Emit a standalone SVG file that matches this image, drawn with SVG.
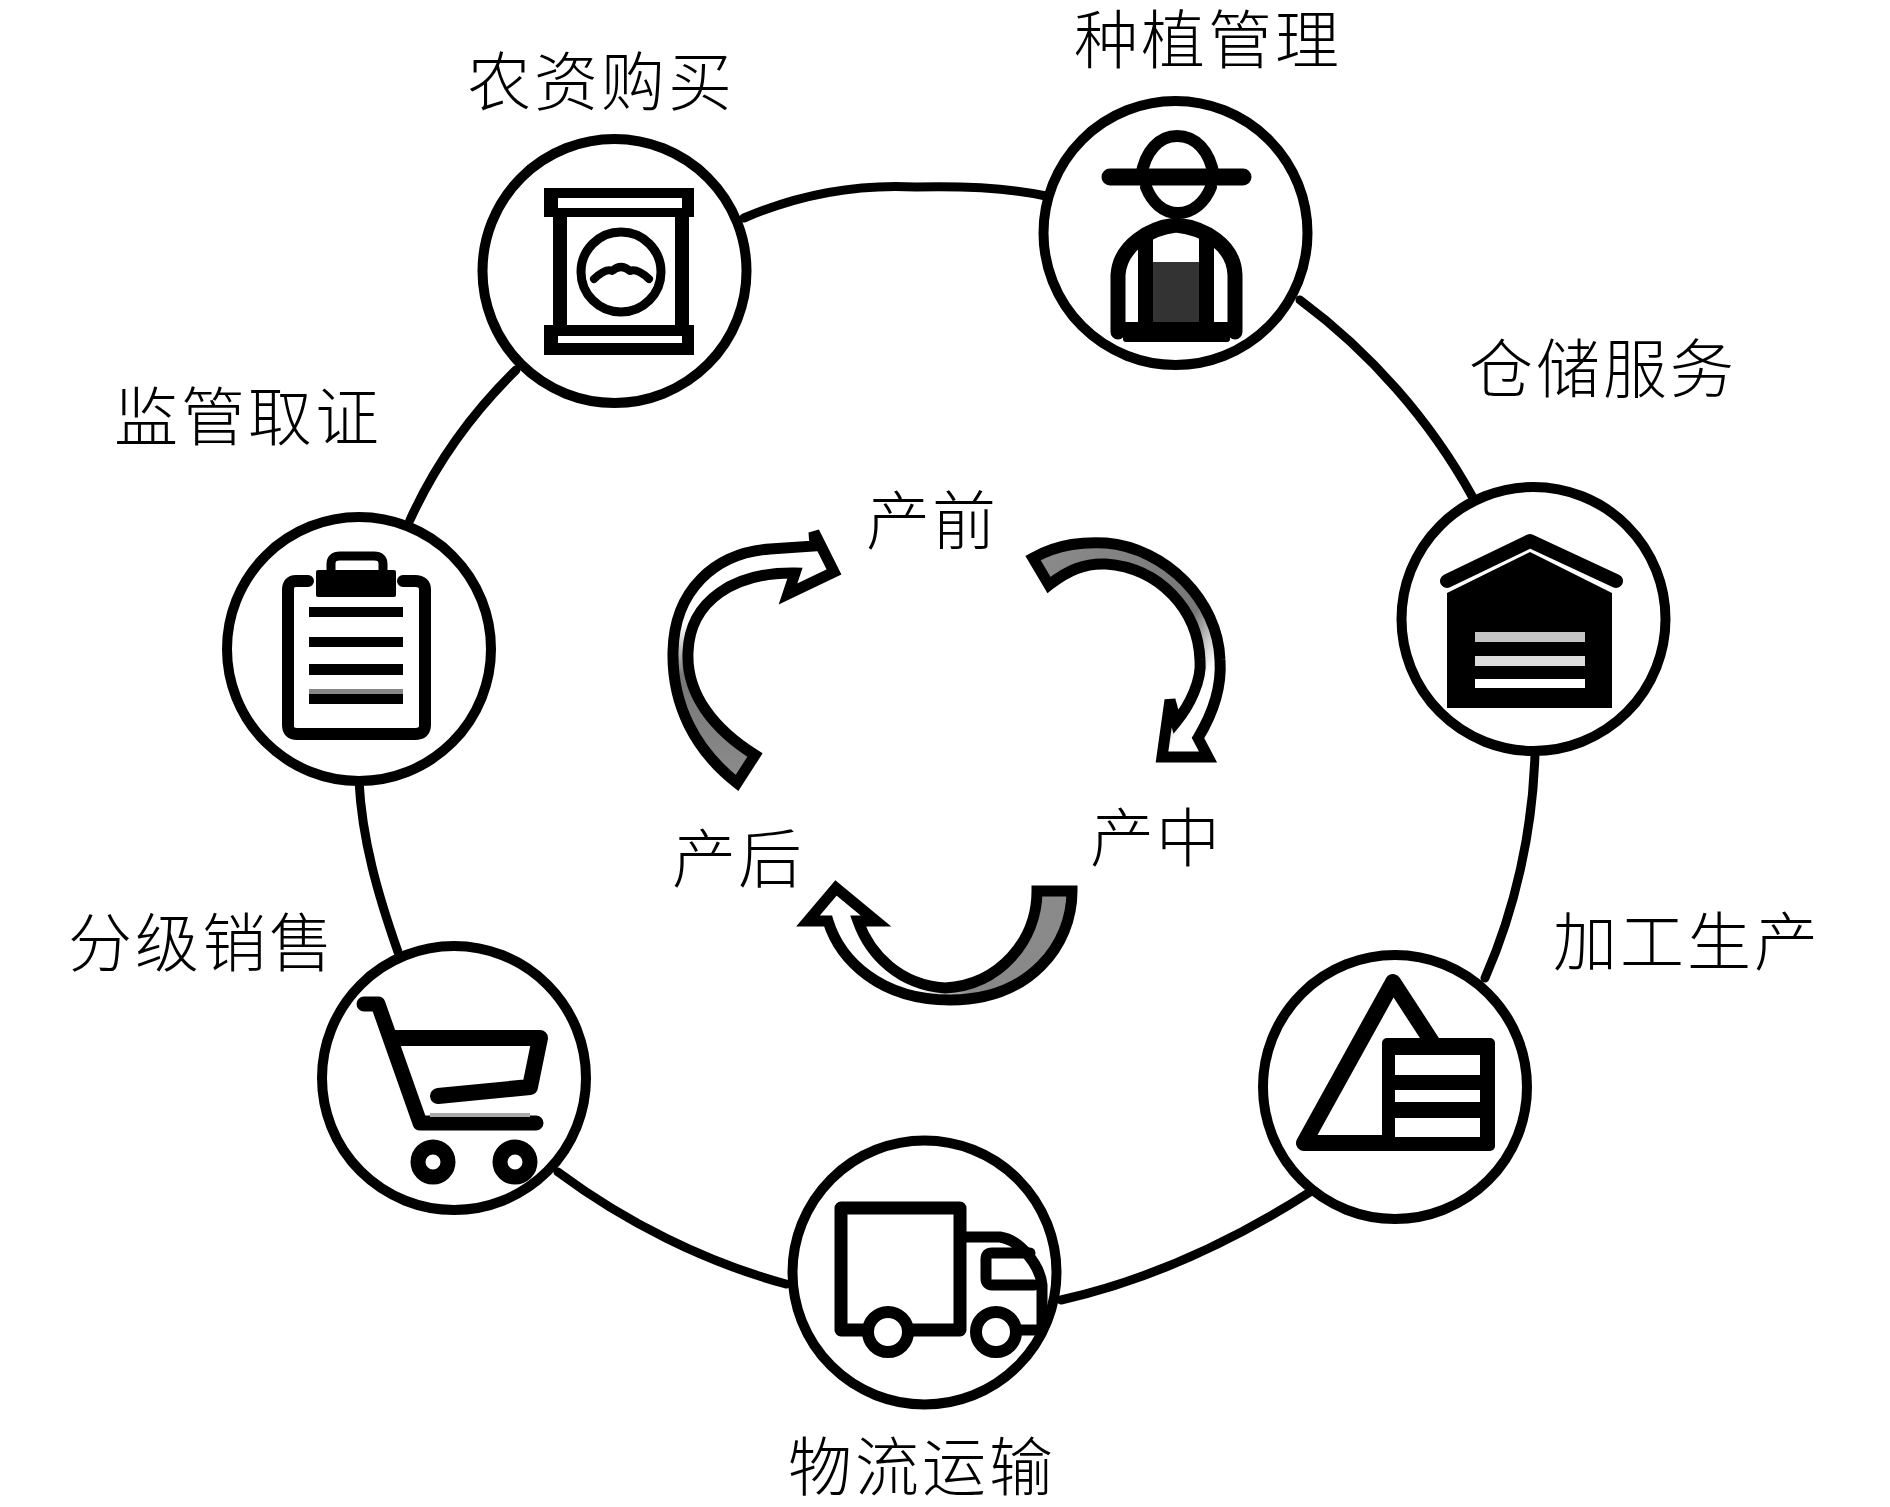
<svg xmlns="http://www.w3.org/2000/svg" width="1890" height="1507" viewBox="0 0 1890 1507">
<style>
.ring{fill:#fff;stroke:#000;stroke-width:10}
.link{fill:none;stroke:#000;stroke-width:9;stroke-linecap:round}
.ic{fill:none;stroke:#000;stroke-linecap:round;stroke-linejoin:round}
.k{fill:#000}
.w{fill:#fff}
.arrow{stroke:#000;stroke-width:11;stroke-linejoin:miter}
text{font-family:"Liberation Serif","Noto Sans CJK SC","Noto Sans CJK JP",serif;font-weight:300;fill:#000;text-anchor:middle}
.big{font-size:64px;letter-spacing:3px}
.mid{font-size:64px;letter-spacing:2px}
</style>
<defs>
<linearGradient id="gA" gradientUnits="userSpaceOnUse" x1="745" y1="770" x2="700" y2="620"><stop offset="0" stop-color="#8a8a8a"/><stop offset="0.7" stop-color="#777"/><stop offset="1" stop-color="#fff"/></linearGradient>
<linearGradient id="gB" gradientUnits="userSpaceOnUse" x1="1040" y1="570" x2="1215" y2="660"><stop offset="0" stop-color="#8a8a8a"/><stop offset="0.8" stop-color="#777"/><stop offset="1" stop-color="#fff"/></linearGradient>
<linearGradient id="gC" gradientUnits="userSpaceOnUse" x1="1055" y1="895" x2="920" y2="995"><stop offset="0" stop-color="#8a8a8a"/><stop offset="0.75" stop-color="#888"/><stop offset="1" stop-color="#fff"/></linearGradient>
</defs>
<rect width="1890" height="1507" fill="#fff"/>
<g id="connectors">
<path class="link" d="M744,218 C800,194 860,184 916,187 C960,186 1005,187 1046,196"/>
<path class="link" d="M1300,300 C1370,352 1430,420 1472,496"/>
<path class="link" d="M1535,753 C1533,830 1515,910 1485,978"/>
<path class="link" d="M1310,1192 C1235,1240 1150,1280 1061,1300"/>
<path class="link" d="M786,1284 C705,1262 625,1222 558,1172"/>
<path class="link" d="M398,952 C378,895 362,840 359,781"/>
<path class="link" d="M410,520 C435,465 470,415 516,370"/>
</g>
<g id="cycle">
<path class="arrow" fill="url(#gA)" d="M755,755 L737,783 C695,750 672,705 673,652 C674,590 715,553 770,549 L815,546 L814,532 L834,572 L788,594 L795,573 C735,572 690,600 688,652 C686,695 715,730 755,755 Z"/>
<path class="arrow" fill="url(#gB)" d="M1033,558 C1060,543 1085,542 1106,543 C1165,548 1218,600 1220,660 C1222,690 1212,715 1198,738 L1208,757 L1162,757 L1170,700 L1176,722 C1190,705 1202,680 1200,660 C1198,610 1160,568 1106,564 C1085,563 1068,570 1049,585 Z"/>
<path class="arrow" fill="url(#gC)" d="M1037,891 H1072 C1072,945 1030,1000 950,1000 C880,1000 840,960 828,921 H808 L836,888 L876,921 H858 C870,955 900,985 945,988 C1000,985 1037,940 1037,891 Z"/>
<text class="mid" x="932" y="544">产前</text>
<text class="mid" x="1156" y="861">产中</text>
<text class="mid" x="738" y="882">产后</text>
</g>
<g id="node-seed">
<circle class="ring" cx="614.5" cy="271" r="132"/>
<rect class="k" x="544" y="188" width="150" height="29"/>
<rect class="w" x="558" y="198" width="124" height="10"/>
<rect class="k" x="544" y="325" width="150" height="30"/>
<rect class="w" x="558" y="336" width="124" height="7"/>
<rect class="k" x="553" y="217" width="14" height="108"/>
<rect class="k" x="675" y="217" width="14" height="108"/>
<circle class="ic" cx="621" cy="272" r="40" stroke-width="9"/>
<path class="ic" stroke-width="8" d="M594,279 Q606,268 612,271 Q621,263 630,271 Q637,268 649,279"/>
<text class="big" x="601" y="105">农资购买</text>
</g>
<g id="node-farmer">
<circle class="ring" cx="1175.5" cy="233" r="132"/>
<path class="ic" stroke-width="17" d="M1110,177 H1243"/>
<path class="ic" stroke-width="12" d="M1141,177 C1145,150 1160,136 1177,136 C1195,136 1210,150 1214,177"/>
<path class="ic" stroke-width="12" d="M1146,187 C1152,202 1163,213 1178,213 C1193,213 1205,202 1211,187"/>
<path class="ic" stroke-width="15" d="M1118,332 V275 C1120,245 1150,228 1176,225 C1205,228 1234,245 1235,275 V332"/>
<rect class="k" x="1138" y="232" width="15" height="96"/>
<rect class="k" x="1199" y="232" width="15" height="96"/>
<rect x="1153" y="262" width="46" height="62" fill="#333"/>
<rect class="k" x="1123" y="322" width="107" height="20" rx="3"/>
<text class="big" x="1208" y="63">种植管理</text>
</g>
<g id="node-warehouse">
<circle class="ring" cx="1533.5" cy="619" r="132"/>
<path class="ic" stroke-width="14" stroke-linecap="butt" d="M1447,581 L1530,541 L1616,581"/>
<path class="k" d="M1447,593 L1530,552 L1612,593 V708 H1447 Z"/>
<rect x="1475" y="632" width="110" height="10" fill="#c4c4c4"/>
<rect x="1475" y="656" width="110" height="10" fill="#ddd"/>
<rect class="w" x="1475" y="679" width="110" height="9"/>
<text class="big" x="1603" y="392">仓储服务</text>
</g>
<g id="node-process">
<circle class="ring" cx="1395" cy="1087" r="132"/>
<path class="ic" stroke-width="16" d="M1432,1042 L1393,982 L1304,1143 H1390"/>
<rect class="k" x="1382" y="1038" width="113" height="113" rx="5"/>
<rect class="w" x="1395" y="1055" width="85" height="20"/>
<rect class="w" x="1395" y="1090" width="85" height="12"/>
<rect class="w" x="1395" y="1118" width="85" height="19"/>
<text class="big" x="1687" y="965">加工生产</text>
</g>
<g id="node-truck">
<circle class="ring" cx="924.5" cy="1272.5" r="132"/>
<path class="ic" stroke-width="13" d="M960,1330 V1208 H841 V1330 H960"/>
<path class="ic" stroke-width="11" d="M965,1237 H1000 C1020,1240 1040,1265 1042,1285 V1330 H1000"/>
<path class="ic" stroke-width="11" d="M1030,1253 H992 Q986,1253 986,1259 V1278 Q986,1285 992,1285 H1034"/>
<circle class="ic" style="fill:#fff" cx="888" cy="1332" r="20" stroke-width="12"/>
<circle class="ic" style="fill:#fff" cx="996" cy="1332" r="20" stroke-width="12"/>
<text class="big" x="922" y="1490">物流运输</text>
</g>
<g id="node-cart">
<circle class="ring" cx="454" cy="1078" r="132"/>
<path class="ic" stroke-width="15" d="M364,1004 H378 L420,1123 H536"/>
<path class="ic" stroke-width="16" stroke-linejoin="miter" d="M393,1038 H540 L530,1087 L438,1096"/>
<rect x="430" y="1113" width="100" height="4" fill="#aaa"/>
<circle class="ic" cx="433" cy="1162" r="15" stroke-width="15"/>
<circle class="ic" cx="515" cy="1162" r="15" stroke-width="15"/>
<text class="big" x="202" y="966">分级销售</text>
</g>
<g id="node-clipboard">
<circle class="ring" cx="359" cy="649" r="132"/>
<path class="ic" stroke-width="12" d="M308,581 H296 Q288,581 288,590 V725 Q288,734 297,734 H415 Q425,734 425,725 V590 Q425,581 415,581 H403"/>
<rect class="k" x="316" y="570" width="80" height="27" rx="2"/>
<path class="ic" stroke-width="9" d="M331,572 V564 Q331,556 340,556 H374 Q383,556 383,564 V572"/>
<rect class="k" x="309" y="607" width="94" height="10"/>
<rect class="k" x="309" y="637" width="94" height="10"/>
<rect class="k" x="309" y="664" width="94" height="11"/>
<rect class="k" x="309" y="694" width="94" height="10"/>
<rect x="309" y="689" width="94" height="5" fill="#888"/>
<text class="big" x="248" y="440">监管取证</text>
</g>
</svg>
